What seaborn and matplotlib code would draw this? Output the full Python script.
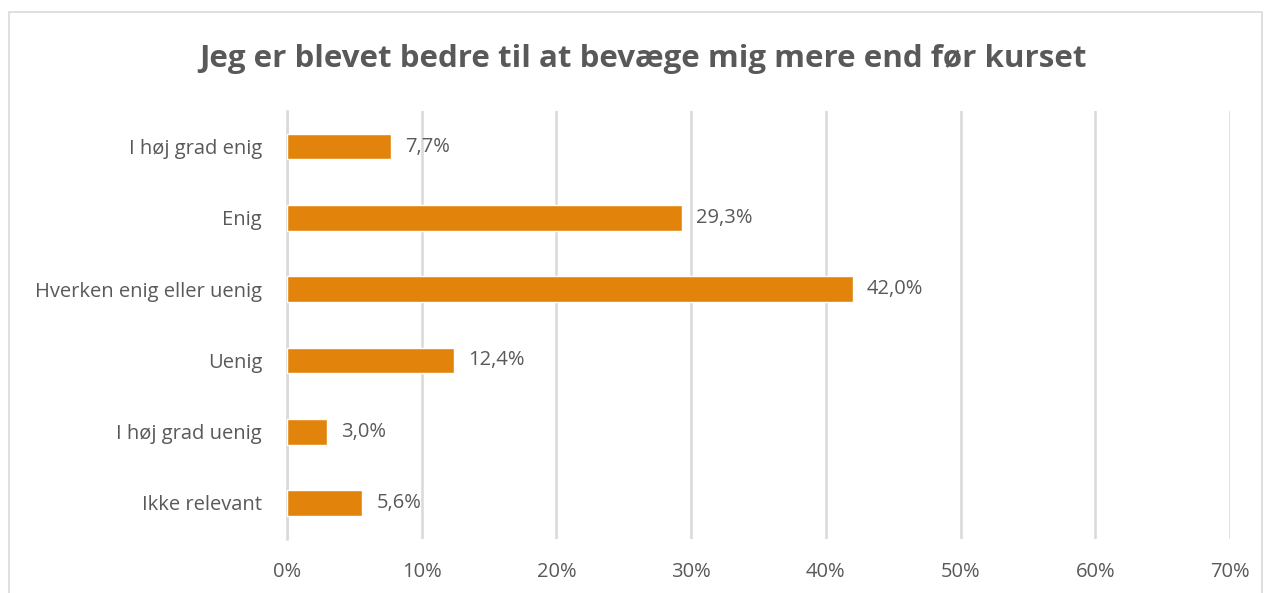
import matplotlib
matplotlib.use("Agg")
import matplotlib.pyplot as plt
import seaborn as sns
import pandas as pd
from matplotlib.patches import Rectangle

categories = ["I høj grad enig", "Enig", "Hverken enig eller uenig", "Uenig",
              "I høj grad uenig", "Ikke relevant"]
values = [7.7, 29.3, 42.0, 12.4, 3.0, 5.6]
tick_values = [0, 10, 20, 30, 40, 50, 60, 70]
tick_labels = ["0%", "10%", "20%", "30%", "40%", "50%", "60%", "70%"]
title = "Jeg er blevet bedre til at bevæge mig mere end før kurset"

sns.set_theme(style="white")
plt.rcParams['font.family'] = ['Open Sans', 'DejaVu Sans']

df = pd.DataFrame({"cat": categories, "val": values})

fig = plt.figure(figsize=(12.69, 5.93), dpi=100)
ax = fig.add_axes([0.2262, 0.0917, 0.9693 - 0.2262, 0.8128 - 0.0917])

grid_c = "#D9D9D9"
text_c = "#595959"
bar_c = "#E2840B"

sns.barplot(data=df, x="val", y="cat", orient="h", color=bar_c, width=0.36,
            saturation=1, ax=ax, zorder=3)

ax.set_xlim(0, 70)
ax.set_ylim(5.5, -0.5)
ax.set_xticks(tick_values)
ax.set_xticklabels(tick_labels)
ax.xaxis.grid(True, color=grid_c, linewidth=1.8, zorder=0)
ax.set_axisbelow(True)
for s in ["top", "right", "bottom"]:
    ax.spines[s].set_visible(False)
ax.spines["left"].set_color(grid_c)
ax.spines["left"].set_linewidth(1.8)
ax.tick_params(axis="both", length=0, labelsize=14.5, colors=text_c)
ax.tick_params(axis="x", pad=17)
ax.tick_params(axis="y", pad=18)
ax.set_xlabel("")
ax.set_ylabel("")

for i, v in enumerate(values):
    ax.annotate(f"{v:.1f}%".replace(".", ","), xy=(v, i), xytext=(10, 0),
                textcoords="offset points", va="center", ha="left",
                fontsize=14.5, color=text_c)

fig.text(0.507, 0.9, title, ha="center", va="center", fontsize=22.5,
         fontweight="bold", color=text_c)

fig.patches.append(Rectangle((9 / 1269, -0.05), (1262 - 9) / 1269, 1.05 - 12 / 593,
                             transform=fig.transFigure, fill=False,
                             edgecolor="#D9D9D9", linewidth=1.2))

fig.savefig("out.png", dpi=100)
